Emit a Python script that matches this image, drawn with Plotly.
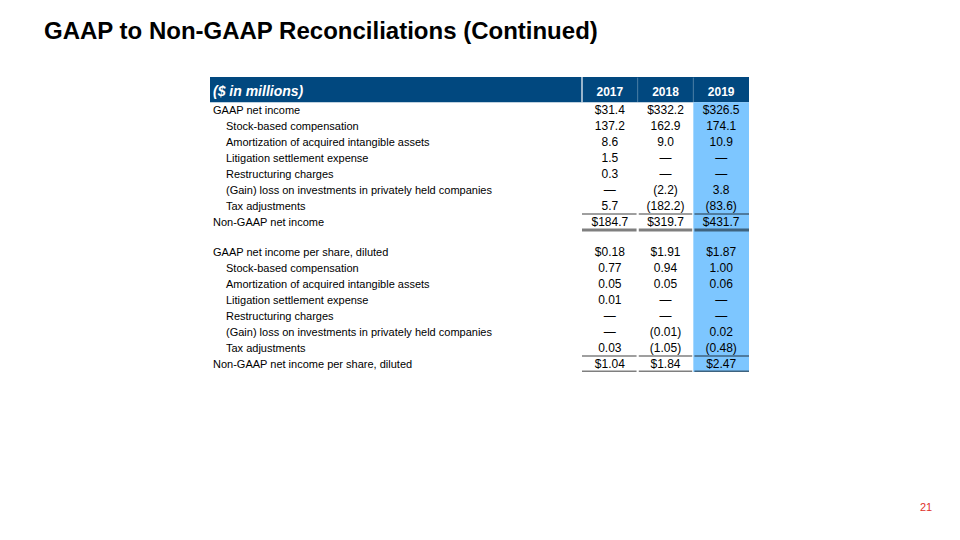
import plotly.graph_objects as go

# ---------------- data ----------------
title_text = "GAAP to Non-GAAP Reconciliations (Continued)"
header_label = "($ in millions)"
years = ["2017", "2018", "2019"]

labels_income = [
    "GAAP net income",
    "Stock-based compensation",
    "Amortization of acquired intangible assets",
    "Litigation settlement expense",
    "Restructuring charges",
    "(Gain) loss on investments in privately held companies",
    "Tax adjustments",
    "Non-GAAP net income",
]
labels_share = [
    "GAAP net income per share, diluted",
    "Stock-based compensation",
    "Amortization of acquired intangible assets",
    "Litigation settlement expense",
    "Restructuring charges",
    "(Gain) loss on investments in privately held companies",
    "Tax adjustments",
    "Non-GAAP net income per share, diluted",
]
indented = [False, True, True, True, True, True, True, False]
dollar_rows = [True, False, False, False, False, False, False, True]

income_2017 = [31.4, 137.2, 8.6, 1.5, 0.3, None, 5.7, 184.7]
income_2018 = [332.2, 162.9, 9.0, None, None, -2.2, -182.2, 319.7]
income_2019 = [326.5, 174.1, 10.9, None, None, 3.8, -83.6, 431.7]

share_2017 = [0.18, 0.77, 0.05, 0.01, None, None, 0.03, 1.04]
share_2018 = [1.91, 0.94, 0.05, None, None, -0.01, -1.05, 1.84]
share_2019 = [1.87, 1.00, 0.06, None, None, 0.02, -0.48, 2.47]

page_number = "21"

# ---------------- styling / layout ----------------
FONT = "Liberation Sans, Arial, sans-serif"
DARK_BLUE = "#01487F"
LIGHT_BLUE = "#7DC6FF"
LINE_COL = "rgba(0,0,0,0.5)"

W, H = 960, 540
TBL_L, TBL_R, COL0 = 210, 749, 582
TBL_T, TBL_B = 77, 372
ROW_PX = 16.0
col_px = (TBL_R - COL0) / 3.0
LBL_W = (COL0 - TBL_L) / col_px
HDR_H = (101.5 - TBL_T) / ROW_PX
BLANK = 14 / ROW_PX
TOTAL = 16 + BLANK
TXT_DY = 0.07


def fmt(v, dollar, dec):
    if v is None:
        return "\u2014"
    s = f"{abs(v):.{dec}f}"
    if dollar:
        s = "$" + s
    if v < 0:
        s = "(" + s + ")"
    return s


# row centres (row units)
y_income = [i + 0.5 + TXT_DY for i in range(8)]
y_share = [8 + BLANK + i + 0.5 + TXT_DY for i in range(8)]
row_y = y_income + y_share
row_labels = labels_income + labels_share
row_indent = indented + indented

pad = 3 / col_px
ind = 13 / col_px
label_x = [-LBL_W + pad + (ind if f else 0) for f in row_indent]

fig = go.Figure()

# labels
fig.add_trace(go.Scatter(
    x=label_x, y=row_y, text=row_labels, mode="text",
    textposition="middle right",
    textfont=dict(family=FONT, size=11, color="#000000"),
    hoverinfo="skip", showlegend=False,
))

# values
cols_income = [income_2017, income_2018, income_2019]
cols_share = [share_2017, share_2018, share_2019]
for j in range(3):
    txt = [fmt(v, d, 1) for v, d in zip(cols_income[j], dollar_rows)] + \
          [fmt(v, d, 2) for v, d in zip(cols_share[j], dollar_rows)]
    fig.add_trace(go.Scatter(
        x=[j + 0.5] * len(txt), y=row_y, text=txt, mode="text",
        textposition="middle center",
        textfont=dict(family=FONT, size=12, color="#000000"),
        hoverinfo="skip", showlegend=False,
    ))

# header texts
fig.add_trace(go.Scatter(
    x=[-LBL_W + pad], y=[-0.6], text=["<b><i>" + header_label + "</i></b>"],
    mode="text", textposition="middle right",
    textfont=dict(family=FONT, size=14, color="#FFFFFF"),
    hoverinfo="skip", showlegend=False,
))
fig.add_trace(go.Scatter(
    x=[j + 0.5 for j in range(3)], y=[-0.55] * 3,
    text=["<b>" + y + "</b>" for y in years],
    mode="text", textposition="middle center",
    textfont=dict(family=FONT, size=12, color="#FFFFFF"),
    hoverinfo="skip", showlegend=False,
))

shapes = []
# header band
shapes.append(dict(type="rect", xref="x", yref="y", x0=-LBL_W, x1=3,
                   y0=-HDR_H - 0.04, y1=0, fillcolor=DARK_BLUE,
                   line=dict(width=0), layer="below"))
# header separators
shapes.append(dict(type="line", xref="x", yref="y", x0=0, x1=0,
                   y0=-HDR_H - 0.04, y1=0, line=dict(color="#FFFFFF", width=1.2),
                   layer="below"))
for j in (1, 2):
    shapes.append(dict(type="line", xref="x", yref="y", x0=j, x1=j,
                       y0=-HDR_H, y1=0, line=dict(color="rgba(255,255,255,0.3)", width=1),
                       layer="below"))
# highlight column
shapes.append(dict(type="rect", xref="x", yref="y", x0=2, x1=3,
                   y0=0, y1=TOTAL, fillcolor=LIGHT_BLUE,
                   line=dict(width=0), layer="below"))
# rule lines under value columns
g = 0.02
for j in range(3):
    for yv, wd in ((7, 1.5), (8, 3), (8 + BLANK + 7, 1.5), (TOTAL, 3)):
        shapes.append(dict(type="line", xref="x", yref="y",
                           x0=j + g if j else j, x1=j + 1 - g if j < 2 else j + 1,
                           y0=yv, y1=yv, line=dict(color=LINE_COL, width=wd),
                           layer="below"))

fig.update_layout(
    width=W, height=H, autosize=False,
    margin=dict(l=0, r=0, t=0, b=0),
    paper_bgcolor="#FFFFFF", plot_bgcolor="#FFFFFF",
    shapes=shapes,
    xaxis=dict(domain=[TBL_L / W, TBL_R / W], range=[-LBL_W, 3],
               visible=False, showgrid=False, zeroline=False, fixedrange=True),
    yaxis=dict(domain=[(H - TBL_B) / H, (H - TBL_T) / H], range=[TOTAL, -HDR_H - 0.04],
               visible=False, showgrid=False, zeroline=False, fixedrange=True),
    annotations=[
        dict(text="<b>" + title_text + "</b>", xref="paper", yref="paper",
             x=42 / W, y=1 - 31 / H, xanchor="left", yanchor="middle",
             showarrow=False, font=dict(family=FONT, size=24, color="#000000")),
        dict(text=page_number, xref="paper", yref="paper",
             x=926 / W, y=1 - 507 / H, xanchor="center", yanchor="middle",
             showarrow=False, font=dict(family=FONT, size=11, color="#E0302A")),
    ],
    showlegend=False,
)

fig.write_html("out.html", config={"displayModeBar": False},
               post_script="document.body.style.margin='0px';document.body.style.padding='0px';")
